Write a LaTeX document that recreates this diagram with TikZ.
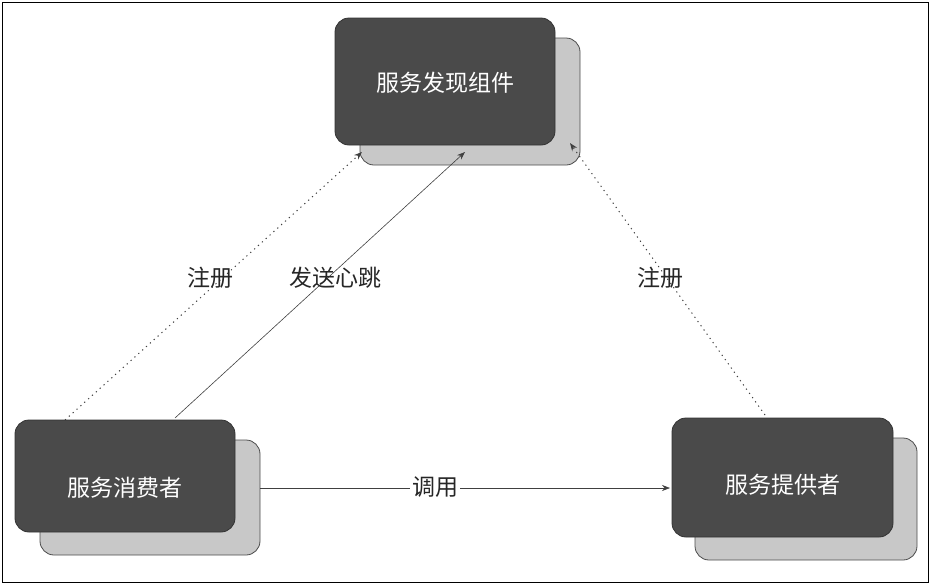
\documentclass[tikz,border=0pt]{standalone}
\usepackage{fontspec}
\newfontfamily\cjk{Noto Sans CJK SC}
\usetikzlibrary{arrows.meta}
\definecolor{boxdark}{HTML}{4A4A4A}
\definecolor{boxshadow}{HTML}{C8C8C8}
\tikzset{
  shadowbox/.style={draw=black!70,fill=boxshadow,rounded corners=14pt,line width=0.8pt},
  mainbox/.style={draw=black!80,fill=boxdark,rounded corners=14pt,line width=0.8pt},
  boxtext/.style={text=white,font=\cjk\fontsize{23}{27}\selectfont},
  lbl/.style={font=\cjk\fontsize{23}{27}\selectfont,text=black!85},
  conn/.style={-{Stealth[length=8pt,width=6pt]},draw=black!75,line width=0.6pt},
  dots/.style={conn,dash pattern=on 1.2pt off 4pt,line width=1pt}
}
\begin{document}
\begin{tikzpicture}[x=1pt,y=-1pt]
\useasboundingbox (0,0) rectangle (930,584);
\draw[line width=1pt] (2,2) rectangle (928,582);
% top
\draw[shadowbox] (360,38) rectangle (580,165);
\draw[mainbox] (335,18) rectangle (555,145);
\node[boxtext] (disc) at (445,83) {服务发现组件};
% left
\draw[shadowbox] (40,440) rectangle (260,555);
\draw[mainbox] (15,420) rectangle (235,532);
\node[boxtext] (cons) at (125,488) {服务消费者};
% right
\draw[shadowbox] (695,438) rectangle (917,560);
\draw[mainbox] (672,418) rectangle (893,537);
\node[boxtext] (prov) at (783,485) {服务提供者};
% connector endpoints
\coordinate (c1) at (65,420);
\coordinate (d1) at (362,152);
\coordinate (c2) at (175,418);
\coordinate (d2) at (465,152);
\coordinate (p1) at (765,415);
\coordinate (d3) at (570,143);
\coordinate (c3) at (260,488);
\coordinate (p2) at (670,488);
\draw[dots] (c1) -- (d1);
\draw[conn] (c2) -- (d2);
\draw[dots] (p1) -- (d3);
\draw[conn] (c3) -- (p2);
\node[lbl] at (210,278) {注册};
\node[lbl] at (335,278) {发送心跳};
\node[lbl] at (660,278) {注册};
\node[lbl,fill=white,inner sep=2pt] at (435,487) {调用};
\end{tikzpicture}
\end{document}
